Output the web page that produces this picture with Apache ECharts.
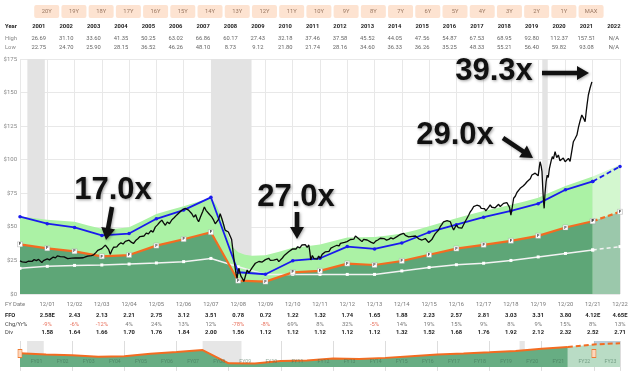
<!DOCTYPE html>
<html><head><meta charset="utf-8">
<script src="https://cdn.jsdelivr.net/npm/echarts/dist/echarts.min.js"></script>
<style>html,body{margin:0;padding:0;background:#fff}#c{width:640px;height:373px}</style>
</head><body><div id="c"></div>
<script>
// ---------------- data ----------------
const rangeButtons = ['20Y','19Y','18Y','17Y','16Y','15Y','14Y','13Y','12Y','11Y','10Y','9Y','8Y','7Y','6Y','5Y','4Y','3Y','2Y','1Y','MAX'];
const years = ['2001','2002','2003','2004','2005','2006','2007','2008','2009','2010','2011','2012','2013','2014','2015','2016','2017','2018','2019','2020','2021','2022'];
const highs = ['26.69','31.10','33.60','41.35','50.25','63.02','66.86','60.17','27.43','32.18','37.46','37.58','45.52','44.05','47.56','54.87','67.53','68.95','92.80','112.37','157.51','N/A'];
const lows  = ['22.75','24.70','25.90','28.15','36.52','46.26','48.10','8.73','9.12','21.80','21.74','28.16','34.60','36.33','36.26','35.25','48.33','55.21','56.40','59.82','93.08','N/A'];
const fyDates = ['12/01','12/02','12/03','12/04','12/05','12/06','12/07','12/08','12/09','12/10','12/11','12/12','12/13','12/14','12/15','12/16','12/17','12/18','12/19','12/20','12/21','12/22'];
const ffo = ['2.58E','2.43','2.13','2.21','2.75','3.12','3.51','0.78','0.72','1.22','1.32','1.74','1.65','1.88','2.23','2.57','2.81','3.03','3.31','3.80','4.12E','4.65E'];
const chg = ['-9%','-6%','-12%','4%','24%','13%','12%','-78%','-8%','69%','8%','32%','-5%','14%','19%','15%','9%','8%','9%','15%','8%','13%'];
const div = ['1.58','1.64','1.66','1.70','1.76','1.84','2.00','1.56','1.12','1.12','1.12','1.12','1.12','1.32','1.52','1.68','1.76','1.92','2.12','2.32','2.52','2.71'];
const navLabels = ['FY01','FY02','FY03','FY04','FY05','FY06','FY07','FY08','FY09','FY10','FY11','FY12','FY13','FY14','FY15','FY16','FY17','FY18','FY19','FY20','FY21','FY22','FY23'];

// values at fiscal-year ends, index 0 = 12/00 ... 22 = 12/22
const orangeFair = [37.0,34.0,31.8,28.0,29.0,36.0,40.8,46.0,9.9,9.2,16.1,17.2,22.6,21.6,24.6,29.2,33.8,36.6,39.6,43.3,49.5,54.2,61.2];
const blueNormal = [57.6,52.4,49.6,43.6,45.0,56.0,62.5,72.0,16.2,14.7,24.8,26.6,35.3,33.6,38.0,46.0,51.6,57.2,61.9,67.3,77.6,83.8,95.0];
const whiteDiv   = [19.1,20.6,21.3,21.6,22.3,23.1,24.1,26.5,20.3,14.6,14.6,14.6,14.6,14.6,17.2,19.8,21.8,22.9,25.0,27.6,30.2,32.8,35.3];
const navExtra = [[23,64.5]];
const greenTop = [[0,57.8],[0.5,56.6],[1,55.2],[1.5,54.6],[2,53.8],[2.5,51],[3,48.5],[3.5,48.6],[4,49.8],[4.5,54.5],[5,59.6],[5.5,62.5],[6,65.4],[6.5,68.5],[7,71.5],[7.2,66],[7.4,57],[7.6,45],[7.8,35],[8,31],[8.25,29.2],[8.5,28.4],[9,28.8],[9.5,31.5],[10,34.5],[10.5,35.6],[11,36.8],[11.5,39.5],[12,42],[12.5,42.3],[13,42.5],[13.5,43.5],[14,45],[14.5,47.5],[15,50.5],[15.5,53.5],[16,56.4],[16.5,59.2],[17,61.9],[17.5,64.1],[18,66.4],[18.5,68.8],[19,71.6],[19.5,76.2],[20,80.5],[20.5,84],[21,87.5],[21.5,91.8],[22,96.2]];
const price = [[0.00,24.6],[0.08,23.9],[0.15,24.8],[0.22,23.5],[0.30,24.4],[0.37,25.1],[0.44,24.3],[0.52,25.6],[0.60,24.9],[0.68,25.8],[0.75,24.6],[0.80,23.4],[0.86,24.9],[0.93,25.7],[1.00,26.1],[1.08,25.4],[1.15,26.8],[1.22,27.5],[1.30,26.9],[1.37,28.4],[1.42,29.2],[1.48,27.9],[1.55,28.8],[1.62,27.6],[1.68,28.3],[1.75,26.4],[1.82,27.5],[1.90,26.7],[1.97,27.8],[2.03,26.9],[2.10,27.9],[2.18,26.8],[2.25,27.6],[2.32,27.0],[2.40,27.6],[2.48,28.2],[2.55,27.5],[2.62,28.6],[2.70,29.2],[2.78,30.8],[2.85,32.5],[2.92,31.7],[3.00,33.8],[3.07,35.2],[3.13,36.4],[3.19,35.0],[3.25,33.2],[3.31,29.5],[3.37,32.6],[3.43,34.8],[3.49,36.2],[3.55,35.1],[3.62,36.9],[3.70,38.1],[3.78,37.2],[3.86,39.2],[3.93,38.4],[4.00,40.1],[4.08,38.6],[4.16,37.6],[4.24,39.8],[4.32,41.2],[4.40,42.8],[4.47,44.1],[4.55,43.2],[4.63,45.4],[4.71,44.8],[4.80,47.2],[4.88,46.1],[4.96,49.8],[5.04,51.5],[5.12,53.4],[5.20,55.0],[5.27,52.8],[5.33,51.2],[5.40,53.6],[5.48,52.4],[5.57,55.3],[5.65,56.8],[5.75,58.9],[5.82,57.6],[5.93,62.4],[6.00,61.5],[6.06,63.8],[6.12,65.2],[6.18,62.5],[6.24,63.6],[6.30,59.8],[6.37,57.2],[6.44,59.0],[6.50,55.6],[6.55,53.8],[6.62,57.5],[6.70,61.4],[6.76,64.8],[6.82,62.3],[6.88,63.5],[6.95,59.2],[7.03,57.4],[7.10,55.0],[7.16,52.3],[7.22,51.2],[7.28,55.6],[7.34,59.8],[7.40,56.2],[7.46,52.1],[7.52,47.6],[7.58,48.8],[7.64,46.2],[7.71,45.0],[7.76,40.5],[7.82,30.3],[7.87,22.0],[7.92,15.4],[7.96,11.7],[8.00,17.5],[8.03,19.1],[8.07,15.2],[8.11,12.9],[8.16,11.4],[8.21,9.4],[8.27,13.8],[8.33,17.9],[8.39,15.8],[8.45,16.6],[8.52,19.8],[8.58,21.2],[8.63,22.9],[8.70,21.6],[8.76,24.2],[8.82,25.3],[8.88,23.8],[8.94,24.1],[9.00,25.6],[9.06,24.4],[9.12,26.6],[9.18,25.1],[9.24,26.2],[9.30,25.3],[9.37,24.5],[9.43,25.9],[9.49,24.1],[9.55,24.6],[9.62,26.8],[9.70,28.9],[9.77,30.2],[9.85,31.5],[9.92,32.8],[10.00,33.6],[10.06,34.4],[10.12,33.5],[10.18,35.2],[10.26,34.3],[10.34,36.5],[10.40,35.6],[10.46,36.8],[10.53,34.8],[10.59,36.5],[10.63,31.0],[10.66,25.3],[10.72,28.6],[10.78,26.4],[10.83,27.8],[10.90,25.9],[10.95,28.2],[11.01,26.6],[11.08,29.5],[11.14,28.6],[11.20,31.4],[11.26,32.8],[11.33,31.8],[11.40,34.2],[11.46,33.5],[11.50,35.2],[11.56,34.6],[11.62,36.3],[11.70,35.8],[11.75,37.7],[11.82,36.9],[11.90,38.4],[11.99,39.0],[12.06,38.2],[12.12,40.6],[12.18,41.5],[12.24,40.8],[12.30,43.2],[12.36,44.0],[12.42,41.2],[12.48,40.1],[12.54,39.0],[12.60,40.6],[12.66,39.8],[12.73,40.2],[12.80,39.1],[12.88,38.4],[12.97,37.7],[13.04,39.4],[13.12,40.2],[13.21,41.5],[13.28,40.4],[13.36,41.2],[13.44,40.1],[13.52,40.7],[13.60,41.8],[13.68,41.0],[13.75,42.1],[13.82,42.7],[13.90,43.8],[13.98,44.6],[14.07,45.2],[14.13,43.6],[14.19,44.2],[14.25,42.5],[14.31,41.5],[14.38,42.9],[14.44,41.8],[14.50,43.2],[14.56,42.7],[14.62,41.1],[14.68,42.0],[14.74,40.2],[14.80,39.0],[14.86,41.3],[14.92,40.2],[14.98,38.4],[15.04,37.7],[15.10,40.5],[15.16,42.7],[15.22,44.8],[15.28,46.2],[15.35,47.7],[15.41,50.1],[15.47,51.8],[15.53,53.8],[15.60,52.6],[15.66,54.6],[15.72,53.2],[15.78,53.8],[15.84,50.2],[15.90,47.7],[15.95,49.6],[16.00,51.4],[16.07,49.5],[16.14,50.1],[16.20,49.0],[16.26,51.4],[16.32,53.8],[16.39,56.4],[16.45,58.6],[16.51,61.2],[16.57,62.8],[16.63,65.0],[16.69,64.2],[16.75,66.1],[16.81,67.5],[16.86,65.4],[16.91,63.8],[16.97,62.5],[17.03,63.6],[17.08,61.9],[17.12,62.5],[17.18,64.5],[17.24,66.3],[17.30,64.6],[17.36,65.9],[17.42,64.2],[17.49,65.0],[17.55,66.8],[17.61,65.1],[17.67,66.4],[17.73,67.5],[17.79,66.2],[17.85,68.1],[17.91,68.7],[17.95,64.5],[18.00,58.8],[18.04,63.5],[18.10,71.3],[18.16,72.8],[18.22,75.6],[18.28,74.5],[18.34,78.7],[18.40,77.8],[18.46,80.6],[18.53,82.1],[18.59,83.6],[18.65,82.5],[18.71,85.8],[18.77,88.6],[18.83,87.2],[18.89,90.0],[18.95,91.1],[19.00,88.0],[19.04,94.5],[19.07,98.5],[19.11,95.2],[19.14,91.1],[19.17,78.0],[19.20,68.0],[19.22,63.8],[19.25,75.0],[19.29,83.6],[19.33,88.5],[19.37,86.8],[19.41,93.2],[19.44,96.0],[19.48,99.5],[19.52,102.3],[19.56,100.6],[19.62,106.0],[19.68,101.5],[19.74,103.5],[19.80,99.2],[19.86,98.5],[19.92,101.2],[19.99,98.5],[20.05,99.8],[20.11,101.0],[20.17,98.8],[20.23,100.0],[20.29,113.4],[20.35,115.6],[20.42,118.4],[20.48,124.5],[20.54,129.2],[20.60,133.3],[20.66,131.0],[20.72,128.3],[20.76,135.5],[20.79,140.7],[20.84,148.2],[20.90,153.2],[20.97,158.0]];
const recessions = [[0.27,0.91],[7.0,8.49],[19.15,19.35]];
const forecastStart = 21;

// ---------------- helpers ----------------
const F = 'Roboto, "Noto Sans", sans-serif';
const pairs = (arr, a, b) => arr.slice(a, b + 1).map((v, i) => [a + i, v]);
const chart = echarts.init(document.getElementById('c'), null, {renderer: 'canvas', width: 640, height: 373});
const tableAxis = (grid, offset, formatter, style) => ({
  type: 'value', gridIndex: grid, min: 0, max: 22, interval: 1, position: 'bottom', offset: offset,
  axisLine: {show: false}, axisTick: {show: false}, splitLine: {show: false},
  axisLabel: Object.assign({fontSize: 5.8, fontFamily: F, margin: 8, formatter: formatter}, style)
});
const at = (arr) => (v) => { const k = Math.round(v); return k >= 1 && k <= arr.length ? arr[k - 1] : ''; };
const topAxis = (grid, data, offset, style) => ({
  type: 'category', gridIndex: grid, data: data, position: 'top', offset: offset,
  axisLine: {show: false}, axisTick: {show: false}, splitLine: {show: false},
  axisLabel: Object.assign({interval: 0, fontSize: 5.8, fontFamily: F, margin: 4}, style)
});
function arrow(x1, y1, x2, y2) {
  const dx = x2 - x1, dy = y2 - y1, L = Math.hypot(dx, dy), ux = dx / L, uy = dy / L, px = -uy, py = ux;
  const w = 2.3, hw = 7, hl = 12, bx = x2 - ux * hl, by = y2 - uy * hl;
  return {type: 'polygon', z: 100, shape: {points: [[x1 + px * w, y1 + py * w], [bx + px * w, by + py * w], [bx + px * hw, by + py * hw], [x2, y2], [bx - px * hw, by - py * hw], [bx - px * w, by - py * w], [x1 - px * w, y1 - py * w]]},
    style: {fill: '#111', shadowBlur: 3, shadowColor: 'rgba(0,0,0,0.35)', shadowOffsetX: 1, shadowOffsetY: 1}};
}
const bigText = (t, x, y) => ({type: 'text', z: 100, x: x, y: y, style: {text: t, fill: '#111', font: 'bold 31px "Liberation Sans", Arial, sans-serif', textAlign: 'center', textVerticalAlign: 'middle', textShadowBlur: 3, textShadowColor: 'rgba(0,0,0,0.4)', textShadowOffsetX: 1, textShadowOffsetY: 1}});
const smallText = (t, x, y, color, weight) => ({type: 'text', x: x, y: y, style: {text: t, fill: color, font: (weight || 'normal') + ' 5.8px ' + F, textAlign: 'left', textVerticalAlign: 'middle'}});
const fLabel = {show: true, position: 'inside', formatter: 'F', fontSize: 4, fontWeight: 'bold', color: '#333'};

const option = {
  animation: false,
  backgroundColor: '#fff',
  grid: [
    {left: 20, right: 20, top: 59, bottom: 79, containLabel: false, outerBoundsMode: 'none'},
    {left: 25.1, width: 602.4, top: 59, height: 1, containLabel: false, outerBoundsMode: 'none'},
    {left: 33.1, width: 571.6, top: 59, height: 1, containLabel: false, outerBoundsMode: 'none'},
    {left: 20, right: 20, top: 341, height: 25.9, containLabel: false, outerBoundsMode: 'none'},
    {left: 23.5, width: 600, top: 341, height: 25.9, containLabel: false, outerBoundsMode: 'none'}
  ],
  xAxis: [
    {type: 'value', gridIndex: 0, min: 0, max: 22, interval: 1,
     axisLine: {show: false}, axisTick: {show: false},
     splitLine: {show: true, lineStyle: {color: '#e8e8e8', width: 1}},
     axisLabel: {fontSize: 5.8, fontFamily: F, color: '#777', margin: 8, formatter: at(fyDates)}},
    tableAxis(0, 10.3, at(ffo), {color: '#222', fontWeight: 'bold'}),
    tableAxis(0, 19.3, (v) => { const s = at(chg)(v); return s ? (s.charAt(0) === '-' ? '{n|' + s + '}' : '{p|' + s + '}') : ''; },
      {rich: {n: {color: '#e8735f', fontSize: 5.8, fontFamily: F}, p: {color: '#777', fontSize: 5.8, fontFamily: F}}}),
    tableAxis(0, 27.3, at(div), {color: '#222', fontWeight: 'bold'}),
    topAxis(1, years, 25.3, {color: '#222', fontWeight: 'bold'}),
    topAxis(1, highs, 13.3, {color: '#666'}),
    topAxis(1, lows, 4.7, {color: '#666'}),
    topAxis(2, rangeButtons, 37, {color: '#9a7863', fontSize: 5.8, backgroundColor: '#fde3d1', borderRadius: 2, width: 25, align: 'center', padding: [4, 0, 3, 0]}),
    {type: 'value', gridIndex: 3, min: 0, max: 23, interval: 2,
     axisLine: {show: false}, axisLabel: {show: false},
     axisTick: {show: true, length: 4, lineStyle: {color: '#dddddd'}},
     splitLine: {show: true, lineStyle: {color: '#dddddd'}}},
    {type: 'category', gridIndex: 4, data: navLabels, position: 'bottom', z: 10,
     axisLine: {show: false}, axisTick: {show: false}, splitLine: {show: false},
     axisLabel: {inside: true, interval: 0, margin: 3, fontSize: 5.2, fontFamily: F, color: 'rgba(60,105,80,0.55)'}}
  ],
  yAxis: [
    {type: 'value', gridIndex: 0, min: 0, max: 175, interval: 25,
     axisLine: {show: false}, axisTick: {show: false},
     splitLine: {show: true, lineStyle: {color: '#e8e8e8'}},
     axisLabel: {fontSize: 6, fontFamily: F, color: '#888', margin: 3, formatter: (v) => '$' + v}},
    {type: 'value', gridIndex: 1, show: false},
    {type: 'value', gridIndex: 2, show: false},
    {type: 'value', gridIndex: 3, min: 0, max: 70.6, show: false},
    {type: 'value', gridIndex: 4, show: false}
  ],
  series: [
    {type: 'line', xAxisIndex: 0, yAxisIndex: 0, z: 1, silent: true, data: [[0, 0]], symbol: 'none', lineStyle: {opacity: 0},
     markArea: {silent: true, itemStyle: {color: '#e3e3e3'}, data: recessions.map(r => [{xAxis: r[0]}, {xAxis: r[1]}])}},
    {type: 'line', xAxisIndex: 0, yAxisIndex: 0, z: 2, silent: true, symbol: 'none', lineStyle: {width: 0},
     areaStyle: {color: '#abf2a5', opacity: 1}, data: greenTop.filter(p => p[0] <= forecastStart)},
    {type: 'line', xAxisIndex: 0, yAxisIndex: 0, z: 2, silent: true, symbol: 'none', lineStyle: {width: 0},
     areaStyle: {color: '#d3f7cf', opacity: 1}, data: greenTop.filter(p => p[0] >= forecastStart)},
    {type: 'line', xAxisIndex: 0, yAxisIndex: 0, z: 3, silent: true, symbol: 'none', lineStyle: {width: 0},
     areaStyle: {color: '#5ea677', opacity: 1}, data: pairs(orangeFair, 0, forecastStart)},
    {type: 'line', xAxisIndex: 0, yAxisIndex: 0, z: 3, silent: true, symbol: 'none', lineStyle: {width: 0},
     areaStyle: {color: '#9bc8ab', opacity: 1}, data: pairs(orangeFair, forecastStart, 22)},
    {type: 'line', xAxisIndex: 0, yAxisIndex: 0, z: 4, data: pairs(whiteDiv, 0, forecastStart), symbol: 'rect', symbolSize: 3,
     itemStyle: {color: '#ffffff'}, lineStyle: {color: '#f2f2f2', width: 1.5}},
    {type: 'line', xAxisIndex: 0, yAxisIndex: 0, z: 4, data: pairs(whiteDiv, forecastStart, 22), symbol: 'rect', symbolSize: 3,
     itemStyle: {color: '#ffffff'}, lineStyle: {color: '#f2f2f2', width: 1.5, type: [4, 3]}},
    {type: 'line', xAxisIndex: 0, yAxisIndex: 0, z: 5, data: pairs(orangeFair, 0, forecastStart), symbol: 'rect', symbolSize: 5,
     itemStyle: {color: '#ffffff', borderColor: '#999', borderWidth: 0.4}, label: fLabel, lineStyle: {color: '#f36c21', width: 2.2}},
    {type: 'line', xAxisIndex: 0, yAxisIndex: 0, z: 5, data: pairs(orangeFair, forecastStart, 22), symbol: 'rect', symbolSize: 5,
     itemStyle: {color: '#ffffff', borderColor: '#999', borderWidth: 0.4}, label: fLabel, lineStyle: {color: '#f36c21', width: 2.2, type: [5, 3]}},
    {type: 'line', xAxisIndex: 0, yAxisIndex: 0, z: 6, data: pairs(blueNormal, 0, forecastStart), symbol: 'circle', symbolSize: 3.5,
     itemStyle: {color: '#1a1aee'}, lineStyle: {color: '#1a1aee', width: 1.8}},
    {type: 'line', xAxisIndex: 0, yAxisIndex: 0, z: 6, data: pairs(blueNormal, forecastStart, 22), symbol: 'circle', symbolSize: 3.5,
     itemStyle: {color: '#1a1aee'}, lineStyle: {color: '#1a1aee', width: 1.8, type: [5, 3]}},
    {type: 'line', xAxisIndex: 0, yAxisIndex: 0, z: 7, data: price, symbol: 'none', lineStyle: {color: '#0a0a0a', width: 1.3}},
    {type: 'line', xAxisIndex: 8, yAxisIndex: 3, z: 1, silent: true, data: [[0, 0]], symbol: 'none', lineStyle: {opacity: 0},
     markArea: {silent: true, itemStyle: {color: '#e6e6e6'}, data: recessions.map(r => [{xAxis: r[0]}, {xAxis: r[1]}])}},
    {type: 'line', xAxisIndex: 8, yAxisIndex: 3, z: 2, silent: true, data: pairs(orangeFair, 0, forecastStart), symbol: 'none',
     lineStyle: {color: '#f36c21', width: 2}, areaStyle: {color: '#67ad83', opacity: 1}},
    {type: 'line', xAxisIndex: 8, yAxisIndex: 3, z: 2, silent: true, data: pairs(orangeFair, forecastStart, 22).concat(navExtra), symbol: 'none',
     lineStyle: {color: '#f36c21', width: 2, type: [5, 3]}, areaStyle: {color: '#b9dcc5', opacity: 1}},
    {type: 'line', xAxisIndex: 8, yAxisIndex: 3, z: 5, silent: true, data: [[0, 0]], symbol: 'none', lineStyle: {opacity: 0},
     markArea: {silent: true, itemStyle: {color: 'rgba(140,172,192,0.6)'}, data: [[{xAxis: 22}, {xAxis: 23}]]},
     markPoint: {silent: true, symbol: 'rect', symbolSize: [4, 8], itemStyle: {color: '#fcd6bb', borderColor: '#f07a30', borderWidth: 0.8}, label: {show: false},
       data: [{coord: [0, 36.5]}, {coord: [22, 36.5]}]}}
  ],
  graphic: [
    smallText('Year', 5, 26.7, '#222', 'bold'),
    smallText('High', 5, 38.7, '#888'),
    smallText('Low', 5, 47.3, '#888'),
    smallText('FY Date', 5, 305, '#777'),
    smallText('FFO', 5, 315.3, '#222', 'bold'),
    smallText('Chg/Yr%', 5, 324.3, '#444'),
    smallText('Div', 5, 332.3, '#444'),
    bigText('17.0x', 113, 190),
    arrow(112, 207, 106, 240),
    bigText('27.0x', 296, 197.5),
    arrow(297, 212, 297, 239),
    bigText('29.0x', 455, 135.5),
    arrow(503, 138, 533, 158),
    bigText('39.3x', 494, 71.5),
    arrow(542, 73, 589, 73)
  ]
};
chart.setOption(option);
</script></body></html>
